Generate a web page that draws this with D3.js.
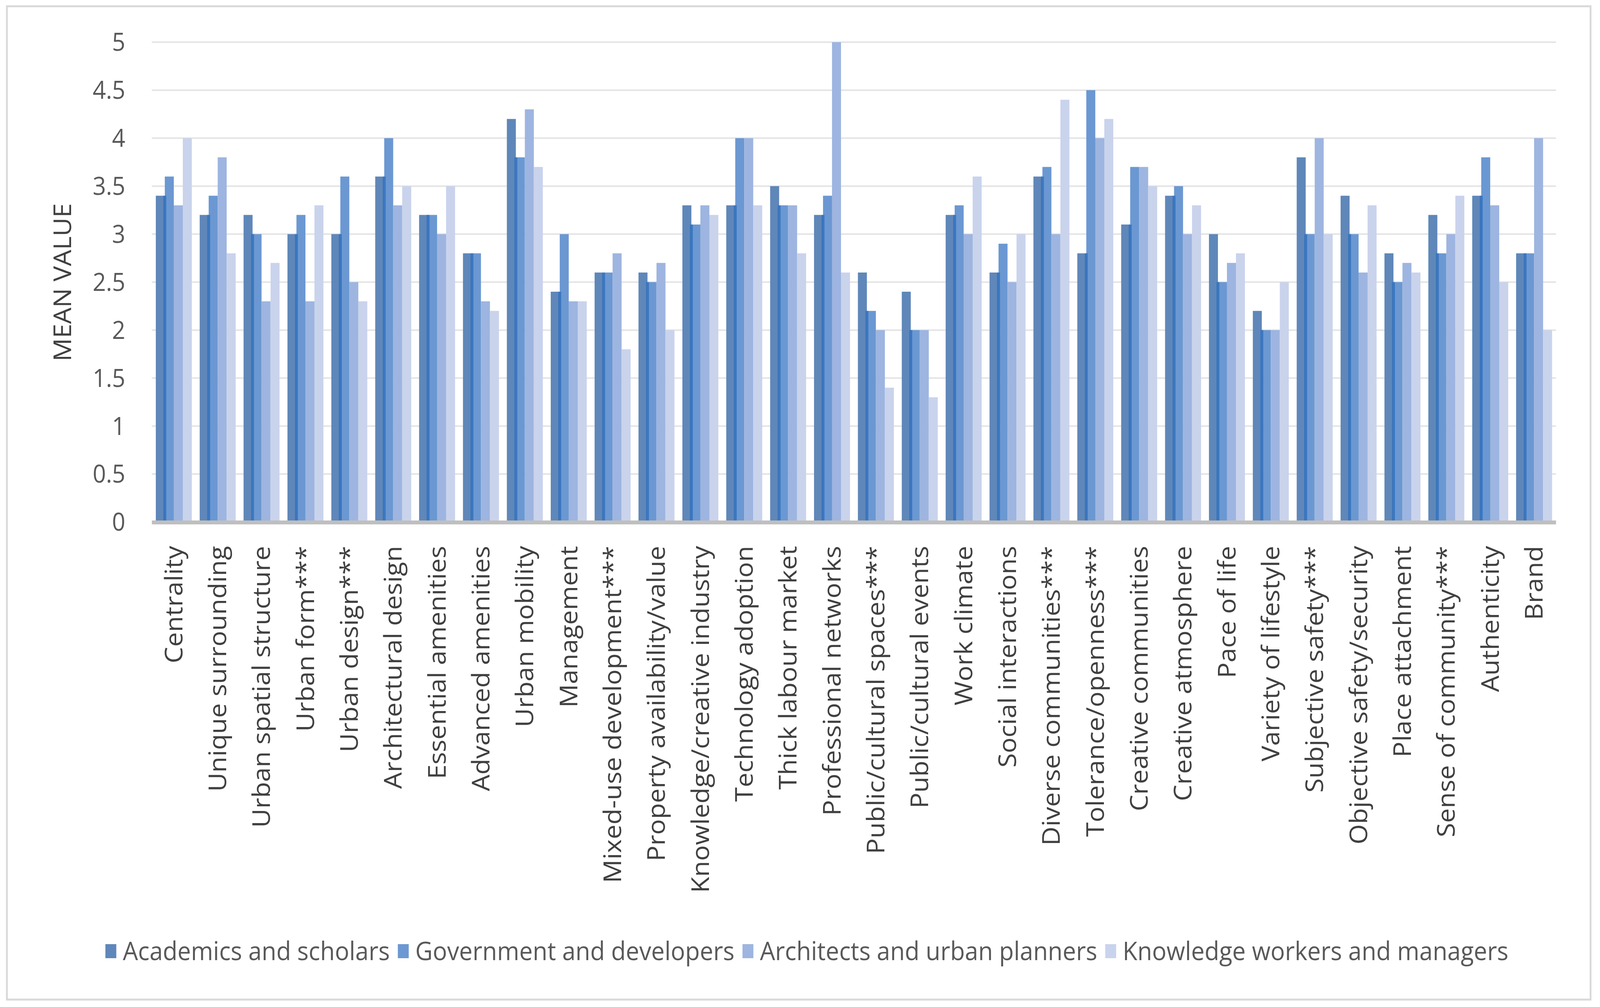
<!DOCTYPE html>
<html>
<head>
<meta charset="utf-8">
<script src="https://cdn.jsdelivr.net/npm/d3@7"></script>
<style>
  html, body { margin: 0; padding: 0; background: #fff; overflow: hidden; }
  svg { display: block; width: 100vw; height: 100vh; }
  text { font-family: "Open Sans", "Noto Sans", sans-serif; }
</style>
</head>
<body>
<div id="chart"></div>
<script>
// categories along the x axis
var categories = ["Centrality", "Unique surrounding", "Urban spatial structure", "Urban form***",
  "Urban design***", "Architectural design", "Essential amenities", "Advanced amenities",
  "Urban mobility", "Management", "Mixed-use development***", "Property availability/value",
  "Knowledge/creative industry", "Technology adoption", "Thick labour market", "Professional networks",
  "Public/cultural spaces***", "Public/cultural events", "Work climate", "Social interactions",
  "Diverse communities***", "Tolerance/openness***", "Creative communities", "Creative atmosphere",
  "Pace of life", "Variety of lifestyle", "Subjective safety***", "Objective safety/security",
  "Place attachment", "Sense of community***", "Authenticity", "Brand"];

var seriesNames = ["Academics and scholars", "Government and developers",
  "Architects and urban planners", "Knowledge workers and managers"];

// mean values per group, same order as categories
var academics  = [3.4, 3.2, 3.2, 3.0, 3.0, 3.6, 3.2, 2.8, 4.2, 2.4, 2.6, 2.6, 3.3, 3.3, 3.5, 3.2,
                  2.6, 2.4, 3.2, 2.6, 3.6, 2.8, 3.1, 3.4, 3.0, 2.2, 3.8, 3.4, 2.8, 3.2, 3.4, 2.8];
var government = [3.6, 3.4, 3.0, 3.2, 3.6, 4.0, 3.2, 2.8, 3.8, 3.0, 2.6, 2.5, 3.1, 4.0, 3.3, 3.4,
                  2.2, 2.0, 3.3, 2.9, 3.7, 4.5, 3.7, 3.5, 2.5, 2.0, 3.0, 3.0, 2.5, 2.8, 3.8, 2.8];
var architects = [3.3, 3.8, 2.3, 2.3, 2.5, 3.3, 3.0, 2.3, 4.3, 2.3, 2.8, 2.7, 3.3, 4.0, 3.3, 5.0,
                  2.0, 2.0, 3.0, 2.5, 3.0, 4.0, 3.7, 3.0, 2.7, 2.0, 4.0, 2.6, 2.7, 3.0, 3.3, 4.0];
var knowledge  = [4.0, 2.8, 2.7, 3.3, 2.3, 3.5, 3.5, 2.2, 3.7, 2.3, 1.8, 2.0, 3.2, 3.3, 2.8, 2.6,
                  1.4, 1.3, 3.6, 3.0, 4.4, 4.2, 3.5, 3.3, 2.8, 2.5, 3.0, 3.3, 2.6, 3.4, 2.5, 2.0];

var yTicks = [0, 0.5, 1, 1.5, 2, 2.5, 3, 3.5, 4, 4.5, 5];

var colors = ["#5f87b9", "#6b98d2", "#9db5e0", "#c9d3ec"];
var seamColor = "#2f6fbd";

var allSeries = [academics, government, architects, knowledge];

var width = 4404, height = 2579;
var plot = {left: 418, right: 4283, top: 108, bottom: 1337};

// stretch the drawing to whatever viewport the page gets
var svg = d3.select("#chart")
  .append("svg")
  .attr("viewBox", "0 0 " + width + " " + height)
  .attr("preserveAspectRatio", "none");

// outer chart border
svg.append("rect")
  .attr("x", 19).attr("y", 16)
  .attr("width", 4378 - 19).attr("height", 2560 - 16)
  .attr("fill", "#fff")
  .attr("stroke", "#d9d9d9")
  .attr("stroke-width", 5);

var x0 = d3.scaleBand()
  .domain(categories)
  .range([plot.left, plot.right])
  .paddingInner(0.18)
  .paddingOuter(0.09);

var x1 = d3.scaleBand()
  .domain(d3.range(seriesNames.length))
  .range([0, x0.bandwidth()]);

var y = d3.scaleLinear()
  .domain([0, 5])
  .range([plot.bottom, plot.top]);

// gridlines
svg.append("g")
  .selectAll("line")
  .data(yTicks.filter(d => d > 0))
  .join("line")
  .attr("x1", plot.left).attr("x2", plot.right)
  .attr("y1", d => y(d)).attr("y2", d => y(d))
  .attr("stroke", "#e4e4e4")
  .attr("stroke-width", 4);

// y tick labels
svg.append("g")
  .selectAll("text")
  .data(yTicks)
  .join("text")
  .attr("x", 345)
  .attr("y", d => y(d))
  .attr("dy", "0.35em")
  .attr("text-anchor", "end")
  .attr("font-size", 64)
  .attr("fill", "#595959")
  .text(d => d);

// bars
var rows = categories.map(function(c, i) {
  return {cat: c, vals: allSeries.map(s => s[i])};
});

var groups = svg.append("g")
  .selectAll("g")
  .data(rows)
  .join("g")
  .attr("transform", d => "translate(" + x0(d.cat) + ",0)");

groups.selectAll("rect.bar")
  .data(d => d.vals.map((v, k) => ({k: k, v: v})))
  .join("rect")
  .attr("class", "bar")
  .attr("x", d => x1(d.k))
  .attr("y", d => y(d.v))
  .attr("width", x1.bandwidth())
  .attr("height", d => y(0) - y(d.v))
  .attr("fill", d => colors[d.k]);

// darker seam where the first two series meet
groups.append("rect")
  .attr("x", x1(1) - 4)
  .attr("y", d => y(Math.min(d.vals[0], d.vals[1])))
  .attr("width", 8)
  .attr("height", d => y(0) - y(Math.min(d.vals[0], d.vals[1])))
  .attr("fill", seamColor)
  .attr("opacity", 0.8);

// x axis line
svg.append("line")
  .attr("x1", plot.left).attr("x2", plot.right)
  .attr("y1", y(0) + 1).attr("y2", y(0) + 1)
  .attr("stroke", "#bfbfbf")
  .attr("stroke-width", 10);

// category labels
svg.append("g")
  .selectAll("text")
  .data(categories)
  .join("text")
  .attr("transform", d => "translate(" + (x0(d) + x0.bandwidth() / 2) + ",1398) rotate(-90)")
  .attr("dy", "0.35em")
  .attr("text-anchor", "end")
  .attr("font-size", 67)
  .attr("fill", "#404040")
  .text(d => d);

// y axis title
svg.append("text")
  .attr("transform", "translate(173,723) rotate(-90)")
  .attr("dy", "0.35em")
  .attr("text-anchor", "middle")
  .attr("font-size", 66)
  .attr("fill", "#404040")
  .text("MEAN VALUE");

// legend
var legend = svg.append("g");
var items = legend.selectAll("g")
  .data(seriesNames)
  .join("g");
items.append("rect")
  .attr("y", 2418)
  .attr("width", 30)
  .attr("height", 36)
  .attr("fill", (d, i) => colors[i]);
items.append("text")
  .attr("x", 48)
  .attr("y", 2436)
  .attr("dy", "0.35em")
  .attr("font-size", 66)
  .attr("fill", "#595959")
  .text(d => d);

var gap = 22;
var pos = 0, offsets = [];
items.each(function() {
  offsets.push(pos);
  pos += 48 + this.querySelector("text").getComputedTextLength() + gap;
});
var legendWidth = pos - gap;
var legendStart = 2221 - legendWidth / 2;
items.attr("transform", (d, i) => "translate(" + (legendStart + offsets[i]) + ",0)");
</script>
</body>
</html>
